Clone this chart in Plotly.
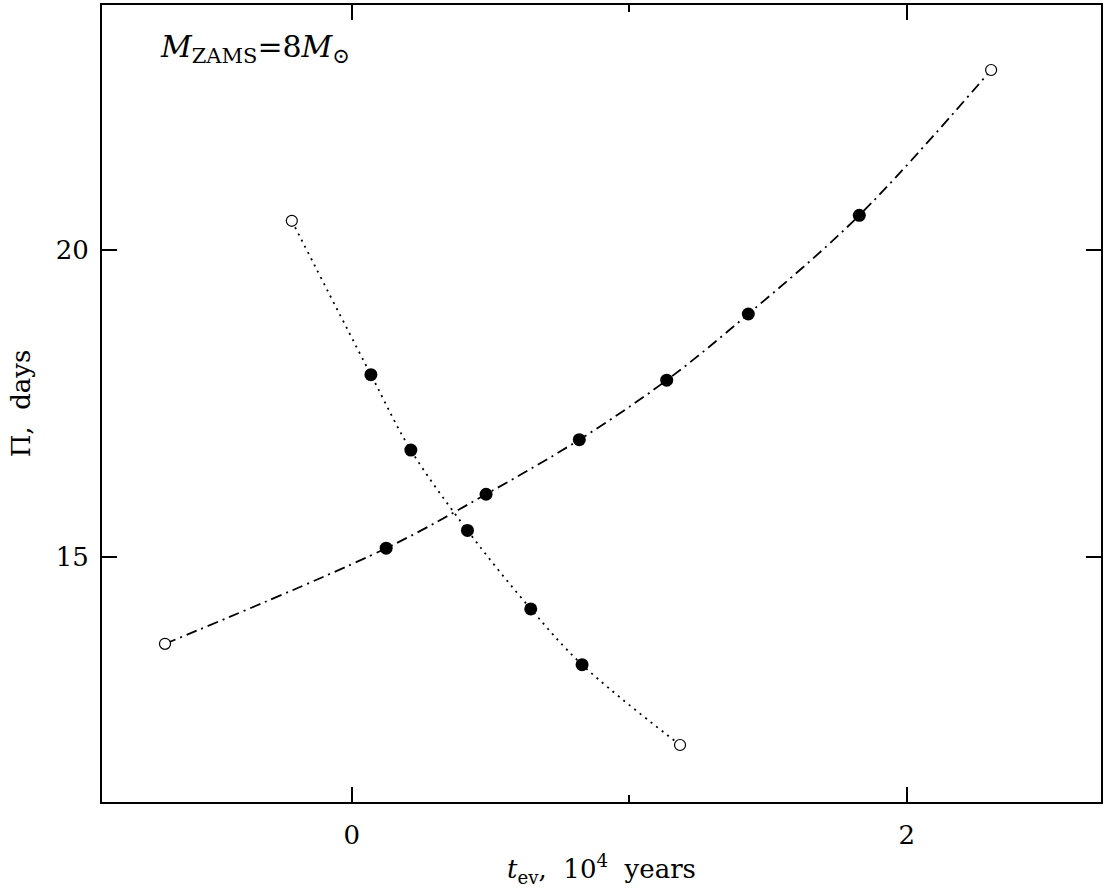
import plotly.graph_objects as go

# Dash-dot track (period increasing)
t_inc = [-0.673, 0.124, 0.484, 0.820, 1.135, 1.429, 1.829, 2.304]
P_inc = [13.58, 15.14, 16.02, 16.91, 17.88, 18.96, 20.57, 22.94]
# Dotted track (period decreasing)
t_dec = [-0.216, 0.069, 0.213, 0.417, 0.645, 0.830, 1.183]
P_dec = [20.48, 17.97, 16.74, 15.43, 14.15, 13.24, 11.93]

x_ticks = [0, 2]
x_minor = [1]
y_ticks = [15, 20]

FONT = "DejaVu Serif"
fig = go.Figure()

for t, P, dash in [(t_inc, P_inc, "11px,5px,2px,5px"), (t_dec, P_dec, "2px,5px")]:
    fig.add_trace(go.Scatter(x=t, y=P, mode="lines",
                             line=dict(color="black", width=1.8, dash=dash, shape="spline", smoothing=1.0),
                             showlegend=False, hoverinfo="skip"))
    # filled interior points
    fig.add_trace(go.Scatter(x=t[1:-1], y=P[1:-1], mode="markers",
                             marker=dict(color="black", size=13, symbol="circle"),
                             showlegend=False))
    # open end points
    fig.add_trace(go.Scatter(x=[t[0], t[-1]], y=[P[0], P[-1]], mode="markers",
                             marker=dict(color="white", size=11, symbol="circle",
                                         line=dict(color="black", width=1.2)),
                             showlegend=False))

axis_common = dict(showgrid=False, zeroline=False, showline=True, linecolor="black",
                   linewidth=2, mirror="ticks", ticks="inside", tickcolor="black",
                   tickwidth=2, ticklen=15,
                   tickfont=dict(family=FONT, size=26, color="black"))

fig.update_xaxes(range=[-0.9, 2.7], tickvals=x_ticks, ticktext=["0", "2"],
                 minor=dict(tickvals=x_minor, ticks="inside", ticklen=7, tickwidth=2, tickcolor="black"),
                 ticklabelstandoff=9,
                 title=dict(text="<i>t</i><sub>ev</sub>,  10<sup>4</sup>  years",
                            font=dict(family=FONT, size=26, color="black"), standoff=11),
                 **axis_common)
fig.update_yaxes(range=[11, 24], tickvals=y_ticks, ticktext=["15", "20"],
                 ticklabelstandoff=6,
                 title=dict(text="Π,  days", font=dict(family=FONT, size=26, color="black"), standoff=18),
                 **axis_common)

fig.add_annotation(x=0.056, y=0.973, xref="paper", yref="paper", xanchor="left", yanchor="top",
                   showarrow=False,
                   text="<i>M</i><sub>ZAMS</sub>=8<i>M</i><sub>⊙</sub>",
                   font=dict(family=FONT, size=30, color="black"))

fig.update_layout(width=1112, height=892, paper_bgcolor="white", plot_bgcolor="white",
                  margin=dict(l=102, r=11, t=3, b=90))

fig.write_html("out.html", config={"displayModeBar": False},
               post_script="document.body.style.margin='0px';")
